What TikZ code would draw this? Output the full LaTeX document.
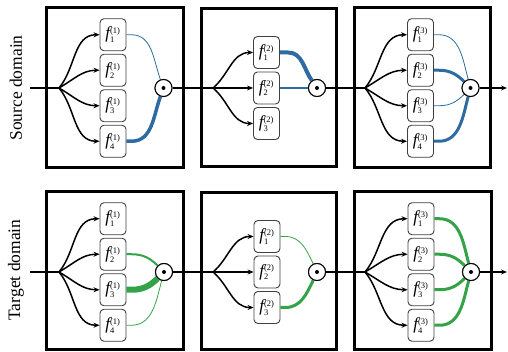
\documentclass[tikz,border=0pt]{standalone}
\usepackage{fontspec}
\setmainfont{Liberation Serif}
\usetikzlibrary{arrows.meta}
\definecolor{srcblue}{RGB}{46,107,160}
\definecolor{tgtgreen}{RGB}{52,163,72}
% expert label f_i^{(l)}
\newcommand{\fexp}[2]{\mbox{\fontsize{17}{17}\selectfont\itshape f}$^{\mbox{\fontsize{8.5}{8.5}\selectfont(#2)}}_{\mbox{\fontsize{8.5}{8.5}\selectfont #1}}$}
\tikzset{
  panel/.style={draw=black, line width=3pt},
  expert/.style={draw=black!75, line width=0.9pt, rounded corners=4pt, minimum width=26pt,
    minimum height=32pt, inner sep=0pt, fill=white},
  gate/.style={circle, draw=black, line width=1pt, fill=white, minimum size=17pt, inner sep=0pt},
  mainline/.style={line width=1.6pt},
  branch/.style={line width=1.5pt, -{Stealth[length=6pt,width=5pt]}},
  wsrc/.style={draw=srcblue, line width=#1},
  wtgt/.style={draw=tgtgreen, line width=#1},
  dlabel/.style={rotate=90, font=\fontsize{17.5}{17.5}\selectfont},
}
\begin{document}
\begin{tikzpicture}[x=1pt,y=1pt]
\useasboundingbox (0,0) rectangle (508,352);

\node[dlabel] (srclabel) at (16,264) {Source domain};
\node[dlabel] (tgtlabel) at (16,82) {Target domain};

% ---------------- source row ----------------
\begin{scope}[yshift=264pt]
  \draw[panel] (46,-80) rectangle (183,80);
  \draw[panel] (201,-79) rectangle (336,79);
  \draw[panel] (354,-80) rectangle (490,80);

  \coordinate (sin) at (30,0);
  \coordinate (s1o) at (59,0);
  \coordinate (s2o) at (213,0);
  \coordinate (s3o) at (365,0);
  \coordinate (sout) at (507,0);

  \node[gate] (s1g) at (163.5,0) {};
  \node[gate] (s2g) at (317,0) {};
  \node[gate] (s3g) at (470.5,0) {};

  % layer 1
  \node[expert] (s1a) at (113,53.25) {\fexp{1}{1}};
  \node[expert] (s1b) at (113,17.75) {\fexp{2}{1}};
  \node[expert] (s1c) at (113,-17.75) {\fexp{3}{1}};
  \node[expert] (s1d) at (113,-53.25) {\fexp{4}{1}};
  % layer 2
  \node[expert] (s2a) at (266.5,35.5) {\fexp{1}{2}};
  \node[expert] (s2b) at (266.5,0) {\fexp{2}{2}};
  \node[expert] (s2c) at (266.5,-35.5) {\fexp{3}{2}};
  % layer 3
  \node[expert] (s3a) at (420.5,53.25) {\fexp{1}{3}};
  \node[expert] (s3b) at (420.5,17.75) {\fexp{2}{3}};
  \node[expert] (s3c) at (420.5,-17.75) {\fexp{3}{3}};
  \node[expert] (s3d) at (420.5,-53.25) {\fexp{4}{3}};

  % trunk
  \draw[mainline] (sin) -- (s1o);
  \draw[mainline] (s1g) -- (s2o);
  \draw[mainline] (s2g) -- (s3o);
  \draw[mainline, -{Stealth[length=6pt,width=5pt]}] (s3g) -- (sout);

  % fan-out
  \draw[branch] (s1o) to[out=50,in=180] (s1a);
  \draw[branch] (s1o) to[out=30,in=180] (s1b);
  \draw[branch] (s1o) to[out=-30,in=180] (s1c);
  \draw[branch] (s1o) to[out=-50,in=180] (s1d);
  \draw[branch] (s2o) to[out=40,in=180] (s2a);
  \draw[branch] (s2o) -- (s2b);
  \draw[branch] (s2o) to[out=-40,in=180] (s2c);
  \draw[branch] (s3o) to[out=50,in=180] (s3a);
  \draw[branch] (s3o) to[out=30,in=180] (s3b);
  \draw[branch] (s3o) to[out=-30,in=180] (s3c);
  \draw[branch] (s3o) to[out=-50,in=180] (s3d);

  % gating weights
  \draw[wsrc=0.8pt] (s1a.east) -- ++(5,0) to[out=0,in=110] (s1g);
  \draw[wsrc=3.5pt] (s1d.east) -- ++(5,0) to[out=0,in=-110] (s1g);
  \draw[wsrc=4pt] (s2a.east) -- ++(8,0) to[out=0,in=125] (s2g);
  \draw[wsrc=2pt] (s2b.east) -- (s2g);
  \draw[wsrc=0.8pt] (s3a.east) -- ++(5,0) to[out=0,in=105] (s3g);
  \draw[wsrc=3pt] (s3b.east) -- ++(5,0) to[out=0,in=135] (s3g);
  \draw[wsrc=0.8pt] (s3c.east) -- ++(5,0) to[out=0,in=-135] (s3g);
  \draw[wsrc=3pt] (s3d.east) -- ++(5,0) to[out=0,in=-105] (s3g);

  % redraw gates on top
  \foreach \g in {s1g,s2g,s3g}{
    \node[gate] at (\g) {};
    \fill (\g) circle (2pt);
  }
\end{scope}

% ---------------- target row ----------------
\begin{scope}[yshift=80pt]
  \draw[panel] (46,-78) rectangle (183,80);
  \draw[panel] (201,-78) rectangle (336,79);
  \draw[panel] (354,-78) rectangle (491,80);

  \coordinate (tin) at (30,0);
  \coordinate (t1o) at (59,0);
  \coordinate (t2o) at (213,0);
  \coordinate (t3o) at (365,0);
  \coordinate (tout) at (507,0);

  \node[gate] (t1g) at (164,0) {};
  \node[gate] (t2g) at (317,0) {};
  \node[gate] (t3g) at (471,0) {};

  \node[expert] (t1a) at (113,53.25) {\fexp{1}{1}};
  \node[expert] (t1b) at (113,17.75) {\fexp{2}{1}};
  \node[expert] (t1c) at (113,-17.75) {\fexp{3}{1}};
  \node[expert] (t1d) at (113,-53.25) {\fexp{4}{1}};
  \node[expert] (t2a) at (267,35.5) {\fexp{1}{2}};
  \node[expert] (t2b) at (267,0) {\fexp{2}{2}};
  \node[expert] (t2c) at (267,-35.5) {\fexp{3}{2}};
  \node[expert] (t3a) at (421,53.25) {\fexp{1}{3}};
  \node[expert] (t3b) at (421,17.75) {\fexp{2}{3}};
  \node[expert] (t3c) at (421,-17.75) {\fexp{3}{3}};
  \node[expert] (t3d) at (421,-53.25) {\fexp{4}{3}};

  \draw[mainline] (tin) -- (t1o);
  \draw[mainline] (t1g) -- (t2o);
  \draw[mainline] (t2g) -- (t3o);
  \draw[mainline, -{Stealth[length=6pt,width=5pt]}] (t3g) -- (tout);

  \draw[branch] (t1o) to[out=50,in=180] (t1a);
  \draw[branch] (t1o) to[out=30,in=180] (t1b);
  \draw[branch] (t1o) to[out=-30,in=180] (t1c);
  \draw[branch] (t1o) to[out=-50,in=180] (t1d);
  \draw[branch] (t2o) to[out=40,in=180] (t2a);
  \draw[branch] (t2o) -- (t2b);
  \draw[branch] (t2o) to[out=-40,in=180] (t2c);
  \draw[branch] (t3o) to[out=50,in=180] (t3a);
  \draw[branch] (t3o) to[out=30,in=180] (t3b);
  \draw[branch] (t3o) to[out=-30,in=180] (t3c);
  \draw[branch] (t3o) to[out=-50,in=180] (t3d);

  \draw[wtgt=2pt] (t1b.east) -- ++(5,0) to[out=0,in=135] (t1g);
  \draw[wtgt=6pt] (t1c.east) -- ++(5,0) to[out=0,in=-135] (t1g);
  \draw[wtgt=0.8pt] (t1d.east) -- ++(5,0) to[out=0,in=-105] (t1g);
  \draw[wtgt=0.8pt] (t2a.east) -- ++(5,0) to[out=0,in=115] (t2g);
  \draw[wtgt=3pt] (t2c.east) -- ++(5,0) to[out=0,in=-115] (t2g);
  \draw[wtgt=3pt] (t3a.east) -- ++(5,0) to[out=0,in=105] (t3g);
  \draw[wtgt=3pt] (t3b.east) -- ++(5,0) to[out=0,in=135] (t3g);
  \draw[wtgt=3pt] (t3c.east) -- ++(5,0) to[out=0,in=-135] (t3g);
  \draw[wtgt=3pt] (t3d.east) -- ++(5,0) to[out=0,in=-105] (t3g);

  \foreach \g in {t1g,t2g,t3g}{
    \node[gate] at (\g) {};
    \fill (\g) circle (2pt);
  }
\end{scope}
\end{tikzpicture}
\end{document}
